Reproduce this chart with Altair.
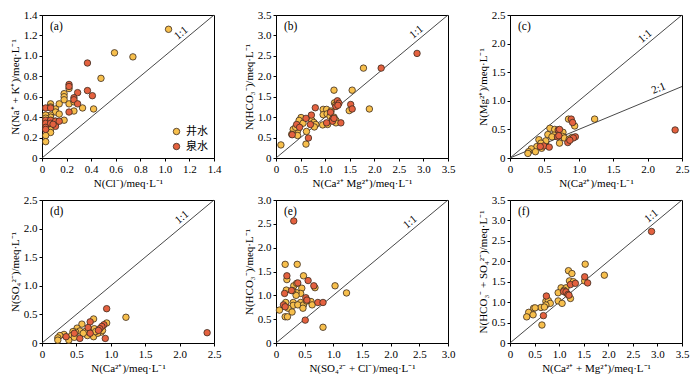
import altair as alt
import pandas as pd
import math

FONT = "Liberation Serif"
CJK = "Noto Sans CJK SC"
WELL = "井水"
SPRING = "泉水"
YEL = "#F7BF4C"
RED = "#E4613F"
W, H = 172, 143

# ---------------- data ----------------
# (a) N(Cl-) vs N(Na+ + K+)
a_well_x = [1.03, 0.59, 0.74, 0.48, 0.22, 0.18, 0.18, 0.18, 0.14, 0.22, 0.26, 0.07, 0.07, 0.42, 0.33, 0.26, 0.11,
            0.11, 0.14, 0.07, 0.07, 0.03, 0.03, 0.03, 0.07, 0.07, 0.18, 0.11, 0.03, 0.07, 0.07, 0.03, 0.03, 0.11]
a_well_y = [1.26, 1.03, 0.99, 0.78, 0.68, 0.63, 0.60, 0.57, 0.53, 0.53, 0.55, 0.53, 0.50, 0.48, 0.49, 0.46, 0.48,
            0.45, 0.43, 0.42, 0.40, 0.42, 0.39, 0.35, 0.36, 0.32, 0.37, 0.36, 0.33, 0.28, 0.25, 0.22, 0.16, 0.33]
a_spr_x = [0.37, 0.22, 0.22, 0.37, 0.29, 0.41, 0.26, 0.26, 0.29, 0.03, 0.07, 0.22, 0.03, 0.03, 0.03, 0.03, 0.07,
           0.07, 0.11, 0.11, 0.14, 0.09]
a_spr_y = [0.93, 0.72, 0.70, 0.66, 0.64, 0.61, 0.59, 0.57, 0.53, 0.49, 0.49, 0.45, 0.37, 0.34, 0.30, 0.28, 0.37,
           0.34, 0.36, 0.31, 0.36, 0.33]

# (b) N(Ca2+ Mg2+) vs N(HCO3-)
b_well_x = [1.78, 1.18, 1.55, 1.90, 1.49, 1.19, 1.21, 0.96, 1.03, 0.96, 1.04, 1.10, 1.18, 1.22, 1.22, 0.95, 1.05,
            0.51, 0.47, 0.73, 0.77, 0.81, 0.78, 0.44, 0.35, 0.32, 0.44, 0.62, 0.61, 0.10, 0.40, 1.12, 0.55]
b_well_y = [2.20, 1.66, 1.66, 1.20, 1.16, 1.35, 1.30, 1.19, 1.19, 1.06, 1.08, 1.02, 1.00, 0.92, 0.86, 0.81, 0.82,
            0.99, 0.92, 0.92, 0.87, 0.82, 0.76, 0.67, 0.70, 0.58, 0.55, 0.65, 0.34, 0.32, 0.75, 1.15, 0.85]
b_spr_x = [2.87, 2.14, 1.52, 1.55, 1.25, 1.28, 1.22, 1.26, 0.80, 0.72, 1.11, 1.15, 1.15, 1.03, 1.32, 0.61, 0.42,
           0.70, 0.48, 0.33, 0.66, 1.18]
b_spr_y = [2.56, 2.20, 1.31, 1.20, 1.40, 1.34, 1.26, 1.29, 1.23, 1.05, 1.12, 0.95, 0.90, 0.86, 0.86, 0.97, 0.82,
           0.82, 0.75, 0.57, 0.49, 0.97]

# (c) N(Ca2+) vs N(Mg2+)
c_well_x = [1.23, 0.85, 0.94, 0.58, 0.65, 0.74, 0.77, 0.55, 0.64, 0.76, 0.79, 0.90, 0.42, 0.72, 0.52, 0.52, 0.45,
            0.39, 0.46, 0.31, 0.37, 0.27, 0.26, 0.61, 0.86]
c_well_y = [0.68, 0.68, 0.56, 0.52, 0.50, 0.45, 0.45, 0.41, 0.40, 0.38, 0.35, 0.36, 0.32, 0.26, 0.28, 0.30, 0.26,
            0.20, 0.17, 0.16, 0.11, 0.11, 0.08, 0.37, 0.33]
c_spr_x = [2.40, 0.89, 0.91, 0.70, 0.72, 0.69, 0.71, 0.95, 0.92, 0.84, 0.49, 0.57, 0.44, 0.87]
c_spr_y = [0.49, 0.68, 0.62, 0.49, 0.50, 0.37, 0.39, 0.37, 0.35, 0.27, 0.21, 0.19, 0.20, 0.31]

# (d) N(Ca2+) vs N(SO4 2-)
d_well_x = [1.22, 0.75, 0.94, 0.86, 0.75, 0.69, 0.72, 0.76, 0.66, 0.63, 0.58, 0.51, 0.55, 0.49, 0.45, 0.43, 0.39,
            0.32, 0.26, 0.23, 0.23, 0.60, 0.81, 0.88, 0.47, 0.78]
d_well_y = [0.45, 0.42, 0.35, 0.19, 0.11, 0.22, 0.22, 0.25, 0.13, 0.20, 0.33, 0.26, 0.21, 0.19, 0.20, 0.13, 0.05,
            0.15, 0.13, 0.09, 0.05, 0.17, 0.17, 0.22, 0.10, 0.20]
d_spr_x = [2.40, 0.94, 0.70, 0.90, 0.87, 0.84, 0.82, 0.92, 0.67, 0.70, 0.55, 0.47, 0.35]
d_spr_y = [0.18, 0.60, 0.37, 0.32, 0.29, 0.25, 0.22, 0.08, 0.27, 0.17, 0.08, 0.17, 0.11]

# (e) N(SO4 2- + Cl-) vs N(HCO3-)
e_well_x = [0.16, 0.37, 0.48, 1.03, 1.23, 0.31, 0.36, 0.45, 0.43, 0.18, 0.35, 0.35, 0.29, 0.61, 0.63, 0.30, 0.30,
            0.43, 0.38, 0.48, 0.47, 0.17, 0.21, 0.06, 0.28, 0.16, 0.20, 0.82, 0.68, 0.53, 0.19]
e_well_y = [1.65, 1.65, 1.41, 1.20, 1.05, 1.20, 1.25, 1.15, 1.04, 1.11, 1.06, 1.00, 1.10, 0.87, 0.80, 0.85, 0.79,
            0.85, 0.80, 0.80, 0.73, 0.85, 0.73, 0.69, 0.65, 0.55, 0.55, 0.33, 1.16, 0.88, 1.33]
e_spr_x = [0.31, 0.19, 0.38, 0.56, 0.66, 0.15, 0.27, 0.52, 0.54, 0.73, 0.82, 0.13, 0.51, 0.16]
e_spr_y = [2.56, 1.41, 1.26, 1.31, 1.20, 1.04, 1.10, 0.95, 0.90, 0.85, 0.85, 0.80, 0.48, 0.76]

# (f) N(Ca2+ + Mg2+) vs N(HCO3- + SO4 2-)
f_well_x = [1.92, 1.53, 1.19, 1.26, 1.52, 1.21, 1.29, 1.04, 1.14, 0.98, 1.10, 1.23, 0.98, 1.06, 0.73, 0.78, 0.82,
            0.73, 0.63, 0.48, 0.51, 0.38, 0.34, 0.47, 0.65, 0.70, 1.15]
f_well_y = [1.66, 1.93, 1.77, 1.70, 1.52, 1.52, 1.50, 1.35, 1.35, 1.23, 1.29, 1.09, 1.03, 0.97, 1.02, 1.04, 0.97,
            0.93, 0.87, 0.85, 0.86, 0.75, 0.64, 0.69, 0.44, 0.88, 1.22]
f_spr_x = [2.88, 1.52, 1.58, 1.23, 1.33, 1.09, 1.14, 1.18, 0.74, 0.68, 1.20]
f_spr_y = [2.73, 1.62, 1.47, 1.43, 1.46, 1.26, 1.25, 1.19, 1.15, 0.67, 1.17]

LABEL_EXPR = "datum.value == 0 ? '0' : format(datum.value, '.1f')"


def ticks(vmax, step):
    n = int(round(vmax / step))
    return [round(i * step, 2) for i in range(n + 1)]


def panel(wx, wy, sx, sy, xmax, ymax, step, xtitle, ytitle, letter, ratios, show_legend=False):
    df = pd.DataFrame({
        "x": wx + sx,
        "y": wy + sy,
        "type": [WELL] * len(wx) + [SPRING] * len(sx),
    })
    xs = alt.Scale(domain=[0, xmax], nice=False)
    ys = alt.Scale(domain=[0, ymax], nice=False)
    xax = alt.Axis(title=xtitle, values=ticks(xmax, step), labelExpr=LABEL_EXPR, labelOverlap=False,
                   labelFlush=False)
    yax = alt.Axis(title=ytitle, values=ticks(ymax, step), labelExpr=LABEL_EXPR, labelOverlap=False,
                   labelFlush=False)
    X = alt.X("x:Q", scale=xs, axis=xax)
    Y = alt.Y("y:Q", scale=ys, axis=yax)

    # reference lines y = x / r
    lrows = []
    trows = []
    for r, name, at in ratios:
        xe = min(xmax, ymax * r)
        lrows += [{"x": 0, "y": 0, "g": name}, {"x": xe, "y": xe / r, "g": name}]
        ang = math.degrees(math.atan((1.0 / r) * (H / ymax) / (W / xmax)))
        trows.append({"x": at, "y": at / r, "t": name, "a": 360 - ang})
    ldf = pd.DataFrame(lrows)
    tdf = pd.DataFrame(trows)

    lines = alt.Chart(ldf).mark_line(color="#333333", strokeWidth=0.9).encode(x=X, y=Y, detail="g:N")
    if show_legend:
        leg = alt.Legend(title=None, orient="bottom-right", offset=6, symbolType="circle", symbolSize=42,
                         symbolStrokeColor="#3b2b20", symbolStrokeWidth=0.8, labelFont=CJK, labelFontSize=11,
                         labelColor="black", rowPadding=3, symbolOpacity=1)
    else:
        leg = None
    pts = alt.Chart(df).mark_circle(size=42, opacity=1, stroke="#3b2b20", strokeWidth=0.8).encode(
        x=X, y=Y,
        fill=alt.Fill("type:N", scale=alt.Scale(domain=[WELL, SPRING], range=[YEL, RED]), legend=leg),
    )
    labs = alt.Chart(tdf).mark_text(font=FONT, fontSize=11, baseline="bottom", align="center", dy=-2,
                                    color="black").encode(
        x=X, y=Y,
        text="t:N",
        angle=alt.Angle("a:Q", scale=None),
    )
    let = alt.Chart(pd.DataFrame({"t": [letter]})).mark_text(
        font=FONT, fontSize=11.5, align="left", baseline="middle", color="black"
    ).encode(x=alt.value(8), y=alt.value(12), text="t:N")
    return alt.layer(lines, pts, labs, let).properties(width=W, height=H)


ML = "/meq·L⁻¹"
pa = panel(a_well_x, a_well_y, a_spr_x, a_spr_y, 1.4, 1.4, 0.2, "N(Cl⁻)" + ML, "N(Na⁺ + K⁺)" + ML, "(a)",
           [(1, "1:1", 1.17)], show_legend=True)
pb = panel(b_well_x, b_well_y, b_spr_x, b_spr_y, 3.5, 3.5, 0.5, "N(Ca²⁺ Mg²⁺)" + ML, "N(HCO₃⁻)" + ML, "(b)",
           [(1, "1:1", 2.95)])
pc = panel(c_well_x, c_well_y, c_spr_x, c_spr_y, 2.5, 2.5, 0.5, "N(Ca²⁺)" + ML, "N(Mg²⁺)" + ML, "(c)",
           [(1, "1:1", 2.03), (2, "2:1", 2.2)])
pd_ = panel(d_well_x, d_well_y, d_spr_x, d_spr_y, 2.5, 2.5, 0.5, "N(Ca²⁺)" + ML, "N(SO₄²⁻)" + ML, "(d)",
            [(1, "1:1", 2.1)])
pe = panel(e_well_x, e_well_y, e_spr_x, e_spr_y, 3.0, 3.0, 0.5, "N(SO₄²⁻ + Cl⁻)" + ML, "N(HCO₃⁻)" + ML, "(e)",
           [(1, "1:1", 2.42)])
pf = panel(f_well_x, f_well_y, f_spr_x, f_spr_y, 3.5, 3.5, 0.5, "N(Ca²⁺ + Mg²⁺)" + ML, "N(HCO₃⁻ + SO₄²⁻)" + ML,
           "(f)", [(1, "1:1", 2.97)])

chart = alt.concat(pa, pb, pc, pd_, pe, pf, columns=3, spacing=alt.RowColnumber(row=42, column=62),
                   bounds="flush").resolve_legend(fill="independent").properties(
    padding={"left": 0, "top": 0, "right": 0, "bottom": 0}
).configure_axis(
    labelFont=FONT, titleFont=FONT, labelFontSize=11, titleFontSize=11, labelColor="black",
    titleColor="black", domainColor="black", tickColor="black", tickSize=3, grid=False, labelPadding=2,
    titlePadding=3, titleFontWeight="normal", labelFlush=False, labelOverlap=False, domainWidth=1
).configure_view(stroke="black", strokeWidth=1)

chart.save("out.html", embed_options={"renderer": "svg", "actions": False})
